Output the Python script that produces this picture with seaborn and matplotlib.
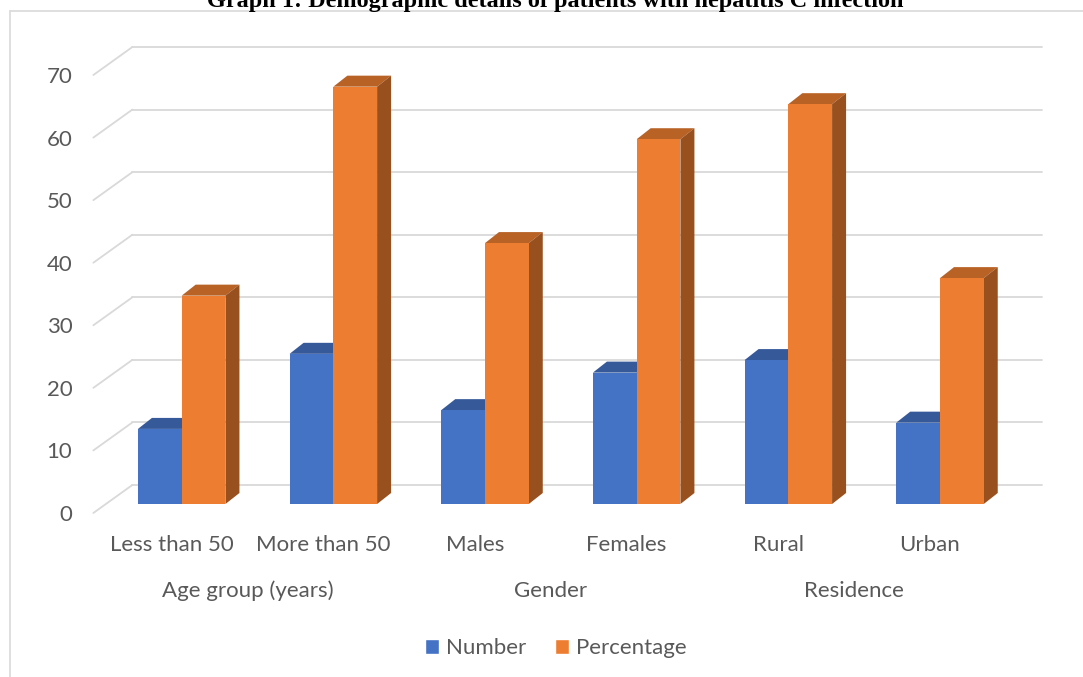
# Excel-style 3D clustered column chart: demographic details of hepatitis C patients
import numpy as np
import pandas as pd
import seaborn as sns
import matplotlib.pyplot as plt
import matplotlib.colors as mcolors
from matplotlib.patches import Polygon, Patch
from matplotlib.lines import Line2D

# Data
categories = ["Less than 50", "More than 50", "Males", "Females", "Rural", "Urban"]
groups = ["Age group (years)", "Gender", "Residence"]
series = ["Number", "Percentage"]
number = [12, 24, 15, 21, 23, 13]
percentage = [33.3, 66.7, 41.7, 58.3, 63.9, 36.1]
y_ticks = list(range(0, 80, 10))

title = "Graph 1: Demographic details of patients with hepatitis C infection"
colors = ["#4472C4", "#ED7D31"]
grid_color = "#D9D9D9"
text_color = "#595959"

df = pd.DataFrame({
    "category": categories * 2,
    "series": [series[0]] * len(number) + [series[1]] * len(percentage),
    "value": number + percentage,
})

sns.set_style("white")
plt.rcParams["font.family"] = ["Lato", "DejaVu Sans"]

fig = plt.figure(figsize=(10.83, 6.77), dpi=100)
ax = fig.add_axes([0, 0, 1, 1])
sns.barplot(data=df, x="category", y="value", hue="series", palette=colors,
            width=0.577, gap=0, linewidth=0, saturation=1, legend=False, ax=ax)
ax.set_xlim(-1.198, 5.943)
ax.set_ylim(-27.65, 80.55)
ax.axis("off")

# pixel offsets used to fake the 3D perspective
depth = (14, 11)      # bar depth
back = (26.5, 19)     # back wall relative to bar front plane
front = (-12.5, -9)   # front floor edge


def shift(x, y, dx, dy):
    px, py = ax.transData.transform((x, y))
    return ax.transData.inverted().transform((px + dx, py + dy))


# walls: back gridlines + slanted side-wall lines + tick labels
left, right = -0.5, len(categories) - 0.5
for v in y_ticks:
    b0 = shift(left, v, *back)
    b1 = shift(right, v, *back)
    f0 = shift(left, v, *front)
    ax.plot([b0[0], b1[0]], [b0[1], b1[1]], color=grid_color, lw=1.3, zorder=1)
    ax.plot([f0[0], b0[0]], [f0[1], b0[1]], color=grid_color, lw=1.3, zorder=1)
    tx, ty = shift(left, v, front[0] - 21, front[1] - 2)
    ax.text(tx, ty, str(v), ha="right", va="center", fontsize=16, color=text_color)

# top and side faces of each bar
for k, cont in enumerate(ax.containers):
    base = np.array(mcolors.to_rgb(colors[k]))
    for bar in cont:
        bar.set_zorder(3 + k)
        x0, w, h = bar.get_x(), bar.get_width(), bar.get_height()
        top = [(x0, h), (x0 + w, h), shift(x0 + w, h, *depth), shift(x0, h, *depth)]
        side = [(x0 + w, 0), (x0 + w, h), shift(x0 + w, h, *depth), shift(x0 + w, 0, *depth)]
        ax.add_patch(Polygon(top, closed=True, facecolor=base * 0.78, edgecolor="none", zorder=2.9 + k))
        ax.add_patch(Polygon(side, closed=True, facecolor=base * 0.64, edgecolor="none", zorder=2.9 + k))

# category and group labels
for i, cat in enumerate(categories):
    tx, ty = shift(i, 0, -10, -41)
    ax.text(tx, ty, cat, ha="center", va="center", fontsize=16, color=text_color)
for g, grp in enumerate(groups):
    tx, ty = shift(2 * g + 0.5, 0, -10, -87)
    ax.text(tx, ty, grp, ha="center", va="center", fontsize=16, color=text_color)

# legend
handles = [Patch(facecolor=c, label=s) for c, s in zip(colors, series)]
fig.legend(handles=handles, loc="center", bbox_to_anchor=(0.513, 0.043), ncol=2,
           frameon=False, fontsize=16, handlelength=0.65, handleheight=0.65,
           handletextpad=0.3, columnspacing=1.3, labelcolor=text_color)

# chart frame (only left and top edges are visible in the crop)
W, H = 1083, 677
fig.add_artist(Line2D([10 / W, 10 / W], [0, 1 - 11 / H], transform=fig.transFigure,
                      color=grid_color, lw=1.2))
fig.add_artist(Line2D([10 / W, 1], [1 - 11 / H, 1 - 11 / H], transform=fig.transFigure,
                      color=grid_color, lw=1.2))

# title, cut off at the top edge as in the source
fig.text(555 / W, 1 - 7 / H, title, ha="center", va="baseline",
         family="Liberation Serif", fontweight="bold", fontsize=17.5, color="black")

fig.savefig("out.png", dpi=100)
